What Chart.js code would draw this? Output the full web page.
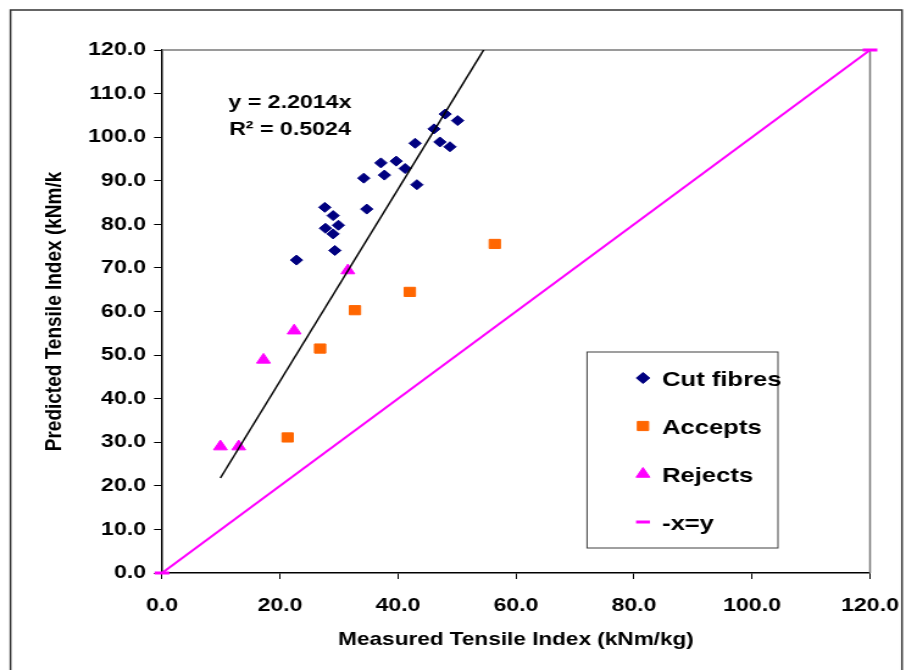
<!DOCTYPE html>
<html>
<head>
<meta charset="utf-8">
<title>Predicted vs Measured Tensile Index</title>
<script src="https://cdn.jsdelivr.net/npm/chart.js@4.4.1/dist/chart.umd.min.js"></script>
<style>
  html, body { margin: 0; padding: 0; background: #fff; overflow: hidden; }
  #wrap { width: 906px; height: 670px; overflow: hidden; }
  /* the reference picture is stretched sideways, so the canvas is too */
  #chart { transform: scaleX(1.21938); transform-origin: 0 0; }
</style>
</head>
<body>
<div id="wrap"><canvas id="chart" width="743" height="670"></canvas></div>
<script>
// Cut fibres (navy diamonds)
const cutX = [22.8, 27.6, 27.7, 29.0, 29.0, 29.3, 29.9, 34.2, 34.7, 37.1, 37.7, 39.7, 41.2, 42.9, 43.2, 46.1, 47.1, 48.0, 48.8, 50.1];
const cutY = [71.8, 83.9, 79.1, 82.0, 77.8, 74.0, 79.8, 90.6, 83.5, 94.1, 91.3, 94.5, 92.8, 98.6, 89.1, 101.9, 98.9, 105.3, 97.8, 103.8];

// Accepts (orange squares)
const acceptX = [21.3, 26.8, 32.7, 42.0, 56.4];
const acceptY = [31.1, 51.5, 60.3, 64.5, 75.5];

// Rejects (magenta triangles)
const rejectX = [9.9, 13.0, 17.2, 22.4, 31.5];
const rejectY = [29.0, 29.0, 48.9, 55.6, 69.4];

// -x=y reference line
const identityX = [0, 120];
const identityY = [0, 120];

// Trendline y = 2.2014x over the x-range of the data
const trendSlope = 2.2014;
const trendX = [9.9, 56.4];
const trendLabel = ["y = 2.2014x", "R\u00B2 = 0.5024"];

// Axis ranges / tick steps
const xRange = [0, 120];
const yRange = [0, 120];
const xStep = 20;
const yStep = 10;

const FONT = "'Liberation Sans', Arial, sans-serif";

function toPoints(xs, ys) {
  return xs.map((x, i) => ({ x: x, y: ys[i] }));
}

// draw one marker the same way the datasets do
function drawMarker(ctx, style, x, y, r, color) {
  ctx.save();
  ctx.fillStyle = color;
  ctx.strokeStyle = color;
  ctx.lineWidth = 1;
  ctx.beginPath();
  if (style === "rectRot") {
    ctx.moveTo(x, y - r);
    ctx.lineTo(x + r, y);
    ctx.lineTo(x, y + r);
    ctx.lineTo(x - r, y);
    ctx.closePath();
    ctx.fill();
    ctx.stroke();
  } else if (style === "rect") {
    const h = r * Math.SQRT1_2;
    ctx.rect(x - h, y - h, 2 * h, 2 * h);
    ctx.fill();
    ctx.stroke();
  } else if (style === "triangle") {
    ctx.moveTo(x, y - r);
    ctx.lineTo(x + r * Math.sin(2 * Math.PI / 3), y + r * 0.5);
    ctx.lineTo(x - r * Math.sin(2 * Math.PI / 3), y + r * 0.5);
    ctx.closePath();
    ctx.fill();
    ctx.stroke();
  } else if (style === "line") {
    ctx.lineWidth = 3;
    ctx.moveTo(x - r, y);
    ctx.lineTo(x + r, y);
    ctx.stroke();
  }
  ctx.restore();
}

// white page with the outer frame
const framePlugin = {
  id: "frame",
  beforeDraw(chart) {
    const ctx = chart.ctx;
    ctx.save();
    ctx.fillStyle = "#fff";
    ctx.fillRect(0, 0, chart.width, chart.height);
    ctx.strokeStyle = "#333";
    ctx.lineWidth = 1.5;
    ctx.strokeRect(8.6, 10, 731.1, 690);
    ctx.restore();
  },
  beforeDatasetsDraw(chart) {
    // grey plot-area border on top and right
    const { ctx, chartArea } = chart;
    ctx.save();
    ctx.strokeStyle = "#7a7a7a";
    ctx.lineWidth = 1.5;
    ctx.beginPath();
    ctx.moveTo(chartArea.left, chartArea.top);
    ctx.lineTo(chartArea.right, chartArea.top);
    ctx.lineTo(chartArea.right, chartArea.bottom);
    ctx.stroke();
    ctx.restore();
  }
};

// trendline equation and the boxed legend
const annotationPlugin = {
  id: "annotations",
  afterDatasetsDraw(chart) {
    const ctx = chart.ctx;
    ctx.save();
    ctx.fillStyle = "#000";
    ctx.font = "bold 19px " + FONT;
    ctx.textAlign = "center";
    ctx.textBaseline = "alphabetic";
    ctx.fillText(trendLabel[0], 237.8, 108);
    ctx.fillText(trendLabel[1], 237.8, 135);

    // legend box
    ctx.fillStyle = "#fff";
    ctx.fillRect(481.4, 352, 156.6, 196);
    ctx.strokeStyle = "#404040";
    ctx.lineWidth = 1;
    ctx.strokeRect(481.4, 352, 156.6, 196);

    const items = chart.data.datasets.filter(d => d.legend);
    const rowY = [378, 426, 474, 522];
    items.sort((a, b) => a.legend - b.legend);
    items.forEach((d, i) => {
      drawMarker(ctx, d.pointStyle, 527.3, rowY[i], d.legendRadius, d.borderColor);
      ctx.fillStyle = "#000";
      ctx.font = "bold 21px " + FONT;
      ctx.textAlign = "left";
      ctx.fillText(d.label, 542.9, rowY[i] + 7.5);
    });
    ctx.restore();
  }
};

const ctx = document.getElementById("chart").getContext("2d");
const chart = new Chart(ctx, {
  type: "scatter",
  data: {
    datasets: [
      {
        label: "Trendline",
        data: toPoints(trendX, trendX.map(x => trendSlope * x)),
        showLine: true,
        borderColor: "#000",
        borderWidth: 1.5,
        pointRadius: 0
      },
      {
        label: "-x=y",
        legend: 4,
        legendRadius: 5.7,
        data: toPoints(identityX, identityY),
        showLine: true,
        clip: false,
        borderColor: "#FF00FF",
        backgroundColor: "#FF00FF",
        borderWidth: 2,
        pointStyle: "line",
        pointRadius: 6,
        pointBorderWidth: 3,
        pointBorderColor: "#FF00FF"
      },
      {
        label: "Rejects",
        legend: 3,
        legendRadius: 6.5,
        data: toPoints(rejectX, rejectY),
        pointStyle: "triangle",
        pointRadius: 6.5,
        borderWidth: 1,
        borderColor: "#FF00FF",
        backgroundColor: "#FF00FF"
      },
      {
        label: "Accepts",
        legend: 2,
        legendRadius: 6.5,
        data: toPoints(acceptX, acceptY),
        pointStyle: "rect",
        pointRadius: 6.5,
        borderWidth: 1,
        borderColor: "#FF6600",
        backgroundColor: "#FF6600"
      },
      {
        label: "Cut fibres",
        legend: 1,
        legendRadius: 5.5,
        data: toPoints(cutX, cutY),
        pointStyle: "rectRot",
        pointRadius: 5,
        borderWidth: 1,
        borderColor: "#000080",
        backgroundColor: "#000080"
      }
    ]
  },
  options: {
    responsive: false,
    animation: false,
    events: [],
    layout: {
      padding: { left: 25, right: 29.5, top: 50, bottom: 0 }
    },
    plugins: {
      legend: { display: false },
      tooltip: { enabled: false }
    },
    scales: {
      x: {
        type: "linear",
        min: xRange[0],
        max: xRange[1],
        ticks: {
          stepSize: xStep,
          color: "#000",
          padding: 15,
          maxRotation: 0,
          font: { family: FONT, size: 19, weight: "bold" },
          callback: function (value) {
            return value.toFixed(1);
          }
        },
        grid: {
          drawOnChartArea: false,
          drawTicks: true,
          tickLength: 6,
          tickColor: "#000",
          tickWidth: 1
        },
        border: { display: true, color: "#000", width: 1.5 },
        title: {
          display: true,
          text: "Measured Tensile Index (kNm/kg)",
          color: "#000",
          font: { family: FONT, size: 18.5, weight: "bold" },
          padding: { top: 4, bottom: 19 }
        },
        afterFit: function (scale) {
          scale.height = 97;
          // keep the plot edges where the layout padding puts them
          scale.paddingLeft = 0;
          scale.paddingRight = 0;
        }
      },
      y: {
        type: "linear",
        min: yRange[0],
        max: yRange[1],
        ticks: {
          stepSize: yStep,
          color: "#000",
          padding: 6.5,
          font: { family: FONT, size: 19, weight: "bold" },
          callback: function (value) {
            return value.toFixed(1);
          }
        },
        grid: {
          drawOnChartArea: false,
          drawTicks: true,
          tickLength: 6.5,
          tickColor: "#000",
          tickWidth: 1
        },
        border: { display: true, color: "#000", width: 1.5 },
        title: {
          display: true,
          text: "Predicted Tensile Index (kNm/k",
          color: "#000",
          font: { family: FONT, size: 19, weight: "bold" },
          padding: { top: 8, bottom: 0 }
        },
        afterFit: function (scale) {
          scale.width = 107.85;
        }
      }
    }
  },
  plugins: [framePlugin, annotationPlugin]
});
</script>
</body>
</html>
